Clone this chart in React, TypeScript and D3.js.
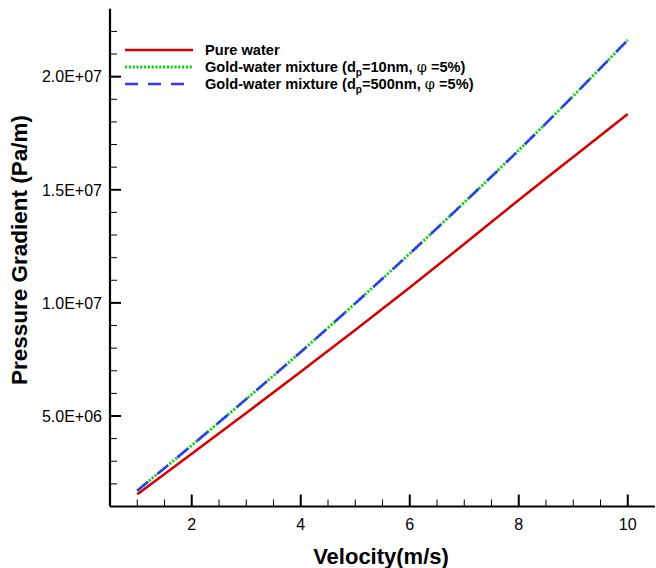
import React from "react";
import * as d3 from "d3";

const VELOCITY = [1, 2, 3, 4, 5, 6, 7, 8, 9, 10];
const PURE_WATER = [1.54e6, 3.33e6, 5.13e6, 6.96e6, 8.8e6, 10.68e6, 12.6e6, 14.55e6, 16.45e6, 18.35e6];
const GOLD_10NM = [1.7e6, 3.7e6, 5.75e6, 7.83e6, 9.98e6, 12.18e6, 14.44e6, 16.75e6, 19.15e6, 21.62e6];
const GOLD_500NM = [1.7e6, 3.7e6, 5.75e6, 7.83e6, 9.98e6, 12.18e6, 14.44e6, 16.75e6, 19.15e6, 21.62e6];

const X_MAJOR_TICKS = [2, 4, 6, 8, 10];
const X_MINOR_TICKS = [1, 1.5, 2.5, 3, 3.5, 4.5, 5, 5.5, 6.5, 7, 7.5, 8.5, 9, 9.5];
const Y_MAJOR_TICKS = [5e6, 1e7, 1.5e7, 2e7];
const Y_MINOR_TICKS = [2e6, 3e6, 4e6, 6e6, 7e6, 8e6, 9e6, 11e6, 12e6, 13e6, 14e6, 16e6, 17e6, 18e6, 19e6, 21e6, 22e6];

const W = 656;
const H = 568;
const FONT = "'Liberation Sans', Arial, Helvetica, sans-serif";

const fmtY = (v: number) => {
  const [m, e] = d3.format(".1e")(v).split("e");
  return `${m}E${e[0]}${e.slice(1).padStart(2, "0")}`;
};

export default function App() {
  const x = d3.scaleLinear().domain([0.5, 10.5]).range([110, 655]);
  const y = d3.scaleLinear().domain([1e6, 2.3e7]).range([506.5, 8.8]);

  const line = (vals: number[]) =>
    d3
      .line<number>()
      .x((_, i) => x(VELOCITY[i]))
      .y((d) => y(d))
      .curve(d3.curveMonotoneX)(vals) || "";

  const axisColor = "#000";
  const x0 = x.range()[0];
  const yBottom = y.range()[0];

  const legendX1 = 125;
  const legendX2 = 193;
  const legendTextX = 205;
  const rows = [50, 67, 84];
  const LF = 14.6;

  return (
    <svg width={W} height={H} style={{ position: "absolute", left: 0, top: 0, background: "#fff" }}>
      <rect x={0} y={0} width={W} height={H} fill="#fff" />

      {/* data lines */}
      <path d={line(PURE_WATER)} fill="none" stroke="#d40000" strokeWidth={2.5} />
      <path d={line(GOLD_10NM)} fill="none" stroke="#14cc14" strokeWidth={2.8} strokeDasharray="2.2,1.6" />
      <path d={line(GOLD_500NM)} fill="none" stroke="#2f3cf2" strokeWidth={2.5} strokeDasharray="14,12" />

      {/* axes */}
      <line x1={x0} y1={yBottom} x2={x.range()[1]} y2={yBottom} stroke={axisColor} strokeWidth={2.2} />
      <line x1={x0} y1={y.range()[1]} x2={x0} y2={yBottom} stroke={axisColor} strokeWidth={2.2} />

      {X_MAJOR_TICKS.map((t) => (
        <g key={"xM" + t}>
          <line x1={x(t)} x2={x(t)} y1={yBottom} y2={yBottom - 12} stroke={axisColor} strokeWidth={2} />
          <text x={x(t)} y={530} textAnchor="middle" fontFamily={FONT} fontSize={16} fill="#000">
            {t}
          </text>
        </g>
      ))}
      {X_MINOR_TICKS.map((t) => (
        <line key={"xm" + t} x1={x(t)} x2={x(t)} y1={yBottom} y2={yBottom - 7} stroke={axisColor} strokeWidth={1} />
      ))}
      {Y_MAJOR_TICKS.map((t) => (
        <g key={"yM" + t}>
          <line x1={x0} x2={x0 + 11} y1={y(t)} y2={y(t)} stroke={axisColor} strokeWidth={2} />
          <text x={102} y={y(t) + 5.8} textAnchor="end" fontFamily={FONT} fontSize={16} fill="#000">
            {fmtY(t)}
          </text>
        </g>
      ))}
      {Y_MINOR_TICKS.map((t) => (
        <line key={"ym" + t} x1={x0} x2={x0 + 7} y1={y(t)} y2={y(t)} stroke={axisColor} strokeWidth={1} />
      ))}

      {/* axis titles */}
      <text x={381} y={564} textAnchor="middle" fontFamily={FONT} fontSize={22} fontWeight="bold" fill="#000">
        Velocity(m/s)
      </text>
      <text
        transform="translate(27,250) rotate(-90)"
        textAnchor="middle"
        fontFamily={FONT}
        fontSize={22.5}
        fontWeight="bold"
        fill="#000"
      >
        Pressure Gradient (Pa/m)
      </text>

      {/* legend */}
      <line x1={legendX1} x2={legendX2} y1={rows[0]} y2={rows[0]} stroke="#d40000" strokeWidth={2.5} />
      <line x1={legendX1} x2={legendX2} y1={rows[1]} y2={rows[1]} stroke="#14cc14" strokeWidth={2.8} strokeDasharray="2.2,1.6" />
      <line x1={legendX1} x2={legendX2} y1={rows[2]} y2={rows[2]} stroke="#2f3cf2" strokeWidth={2.5} strokeDasharray="13,10" />

      <text x={legendTextX} y={rows[0] + 5} fontFamily={FONT} fontSize={LF} fontWeight="bold" fill="#000">
        Pure water
      </text>
      <text x={legendTextX} y={rows[1] + 5} fontFamily={FONT} fontSize={LF} fontWeight="bold" fill="#000">
        Gold-water mixture (d
        <tspan fontSize={10} dy={4}>p</tspan>
        <tspan dy={-4}>=10nm,  </tspan>
        <tspan fontWeight="normal" fontFamily="'DejaVu Serif', serif" fontSize={LF}>φ</tspan>
        <tspan> =5%)</tspan>
      </text>
      <text x={legendTextX} y={rows[2] + 5} fontFamily={FONT} fontSize={LF} fontWeight="bold" fill="#000">
        Gold-water mixture (d
        <tspan fontSize={10} dy={4}>p</tspan>
        <tspan dy={-4}>=500nm,  </tspan>
        <tspan fontWeight="normal" fontFamily="'DejaVu Serif', serif" fontSize={LF}>φ</tspan>
        <tspan> =5%)</tspan>
      </text>
    </svg>
  );
}
